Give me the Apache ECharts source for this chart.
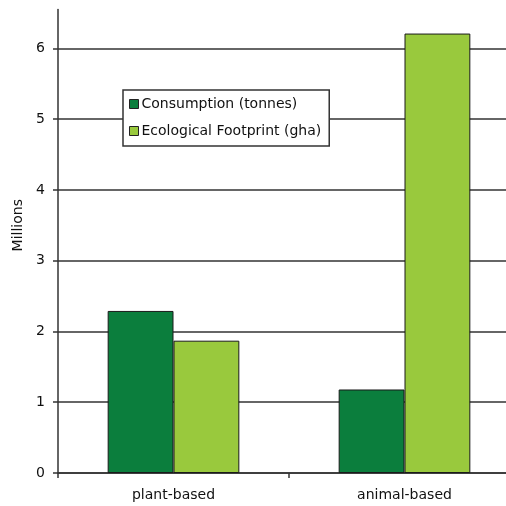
<!DOCTYPE html>
<html><head><meta charset="utf-8">
<script src="https://cdn.jsdelivr.net/npm/echarts@6/dist/echarts.min.js"></script>
<style>html,body{margin:0;padding:0;background:#fff;overflow:hidden}#c{width:522px;height:506px}</style>
</head><body><div id="c"></div>
<script>
const categories = ['plant-based', 'animal-based'];
const seriesNames = ['Consumption (tonnes)', 'Ecological Footprint (gha)'];
const consumption = [2.29, 1.18];
const footprint = [1.87, 6.21];
const yTicks = [0, 1, 2, 3, 4, 5, 6];

const chart = echarts.init(document.getElementById('c'), null, {renderer: 'canvas'});
const font = 'DejaVu Sans, sans-serif';
chart.setOption({
  animation: false,
  backgroundColor: '#fff',
  grid: {left: 58, right: 2, top: 9.5, bottom: 33, containLabel: false},
  legend: {
    orient: 'vertical', left: 123, top: 90,
    padding: [7, 8, 8, 6],
    backgroundColor: '#fff', borderColor: '#333', borderWidth: 1.5,
    itemWidth: 9, itemHeight: 9, itemGap: 13,
    icon: 'rect',
    itemStyle: {borderColor: '#222', borderWidth: 1},
    textStyle: {fontFamily: font, fontSize: 14, color: '#111', padding: [0, 0, 0, -2]},
    data: seriesNames
  },
  xAxis: {
    type: 'category', data: categories,
    axisLine: {lineStyle: {color: '#333', width: 1.5}},
    axisTick: {show: true, length: 5, lineStyle: {color: '#333', width: 1.5}},
    axisLabel: {fontFamily: font, fontSize: 14, color: '#111', margin: 15}
  },
  yAxis: {
    type: 'value', min: 0, max: 6.55, interval: 1,
    name: 'Millions', nameLocation: 'middle', nameGap: 32, nameRotate: 90,
    nameTextStyle: {fontFamily: font, fontSize: 14, color: '#111', padding: [0, 0, 0, 32]},
    axisLine: {show: true, lineStyle: {color: '#333', width: 1.5}},
    axisTick: {show: true, length: 5, customValues: yTicks, lineStyle: {color: '#333', width: 1.5}},
    axisLabel: {fontFamily: font, fontSize: 14, color: '#111', margin: 13, customValues: yTicks},
    splitLine: {show: true, lineStyle: {color: '#333', width: 1.5}}
  },
  series: [
    {name: seriesNames[0], type: 'bar', data: consumption, barGap: '0%', barCategoryGap: '43%',
     itemStyle: {color: '#0b7e3d', borderColor: '#1a1a1a', borderWidth: 1}},
    {name: seriesNames[1], type: 'bar', data: footprint, barGap: '0%', barCategoryGap: '43%',
     itemStyle: {color: '#99c93d', borderColor: '#1a1a1a', borderWidth: 1}}
  ]
});
</script></body></html>
